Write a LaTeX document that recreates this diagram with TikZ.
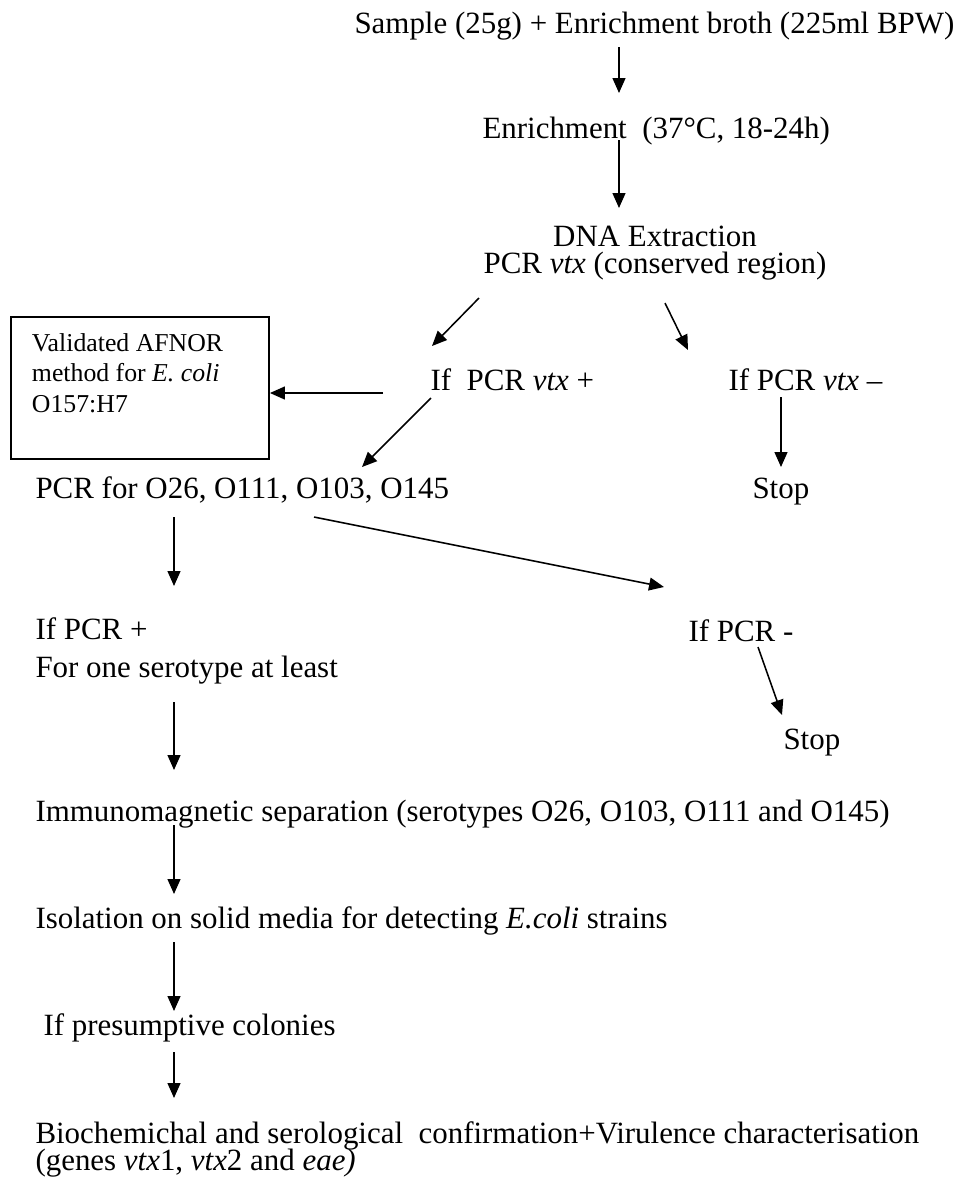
\documentclass[tikz,border=0pt]{standalone}
\usepackage{fontspec}
\setmainfont{Liberation Serif}
\usetikzlibrary{arrows.meta,calc}
\begin{document}
\begin{tikzpicture}[x=0.388pt, y=-0.388pt,
    txt/.style={inner sep=0pt, anchor=base west, font=\fontsize{12}{14.4}\selectfont},
    flow/.style={line width=0.6pt, -{Triangle[length=5.8pt,width=5pt]}}]
\useasboundingbox (0,0) rectangle (959,1187);
% steps
\node[txt] (sample) at (354,33) {Sample (25g) + Enrichment broth (225ml BPW)};
\node[txt] (enrich) at (482,138) {Enrichment\ \ (37°C, 18-24h)};
\node[txt, anchor=base, align=center] (dna) at (655,273)
    {DNA Extraction\\[-4.05pt]PCR \textit{vtx} (conserved region)};
\node[txt] (pos) at (430,390) {If\ \ PCR \textit{vtx} +};
\node[txt] (neg) at (728,390) {If PCR \textit{vtx} --};
\node[txt] (stopa) at (752,498) {Stop};
\node[draw, line width=0.75pt, anchor=north west, text width=83.8pt, align=flush left,
    inner xsep=8.15pt, inner ysep=6.4pt, font=\fontsize{10}{11.8}\selectfont]
    (afnor) at (10,316) {Validated AFNOR\\method for \textit{E. coli}\\O157:H7\\\mbox{}};
\node[txt] (pcr) at (35,498) {PCR for O26, O111, O103, O145};
\node[txt, align=left] (ifpos) at (35,677) {If PCR +\\For one serotype at least};
\node[txt] (ifneg) at (688,641) {If PCR -};
\node[txt] (stopb) at (783,749) {Stop};
\node[txt] (ims) at (35,821) {Immunomagnetic separation (serotypes O26, O103, O111 and O145)};
\node[txt] (iso) at (35,928) {Isolation on solid media for detecting \textit{E.coli} strains};
\node[txt] (pres) at (43,1035) {If presumptive colonies};
\node[txt, align=left] (bio) at (35,1170)
    {Biochemichal and serological\ \ confirmation+Virulence characterisation\\[-4pt](genes \textit{vtx}1, \textit{vtx}2 and \textit{eae)}};
% arrows
\coordinate (top) at (619,0);
\coordinate (col) at (174,0);
\draw[flow] ($(sample.base -| top)+(0,14)$) -- ($(enrich.base -| top)+(0,-45)$);
\draw[flow] ($(enrich.base -| top)+(0,2)$) -- ($(dna.base -| top)+(0,-65)$);
\draw[flow] ($(dna.base)+(-176,25)$) -- ($(pos.base west)+(2,-44)$);
\draw[flow] ($(dna.base)+(10,30)$) -- ($(neg.base west)+(-40,-40)$);
\coordinate (h1) at ($(pos.base west)+(-47,3)$);
\draw[flow] (h1) -- (h1 -| afnor.east);
\draw[flow] ($(pos.base west)+(1,8)$) -- ($(pcr.base west)+(327,-31)$);
\draw[flow] ($(neg.base west)+(53,7)$) -- ($(stopa.base west)+(29,-31)$);
\draw[flow] ($(pcr.base west)+(279,19)$) -- ($(ifneg.base west)+(-24,-54)$);
\draw[flow] ($(pcr.base -| col)+(0,19)$) -- ($(ifpos.base -| col)+(0,-91)$);
\draw[flow] ($(ifneg.base west)+(70,6)$) -- ($(stopb.base west)+(-1,-34)$);
\draw[flow] ($(ifpos.base -| col)+(0,25)$) -- ($(ims.base -| col)+(0,-51)$);
\draw[flow] ($(ims.base -| col)+(0,4)$) -- ($(iso.base -| col)+(0,-34)$);
\draw[flow] ($(iso.base -| col)+(0,14)$) -- ($(pres.base -| col)+(0,-24)$);
\draw[flow] ($(pres.base -| col)+(0,17)$) -- ($(bio.base -| col)+(0,-72)$);
\end{tikzpicture}
\end{document}
